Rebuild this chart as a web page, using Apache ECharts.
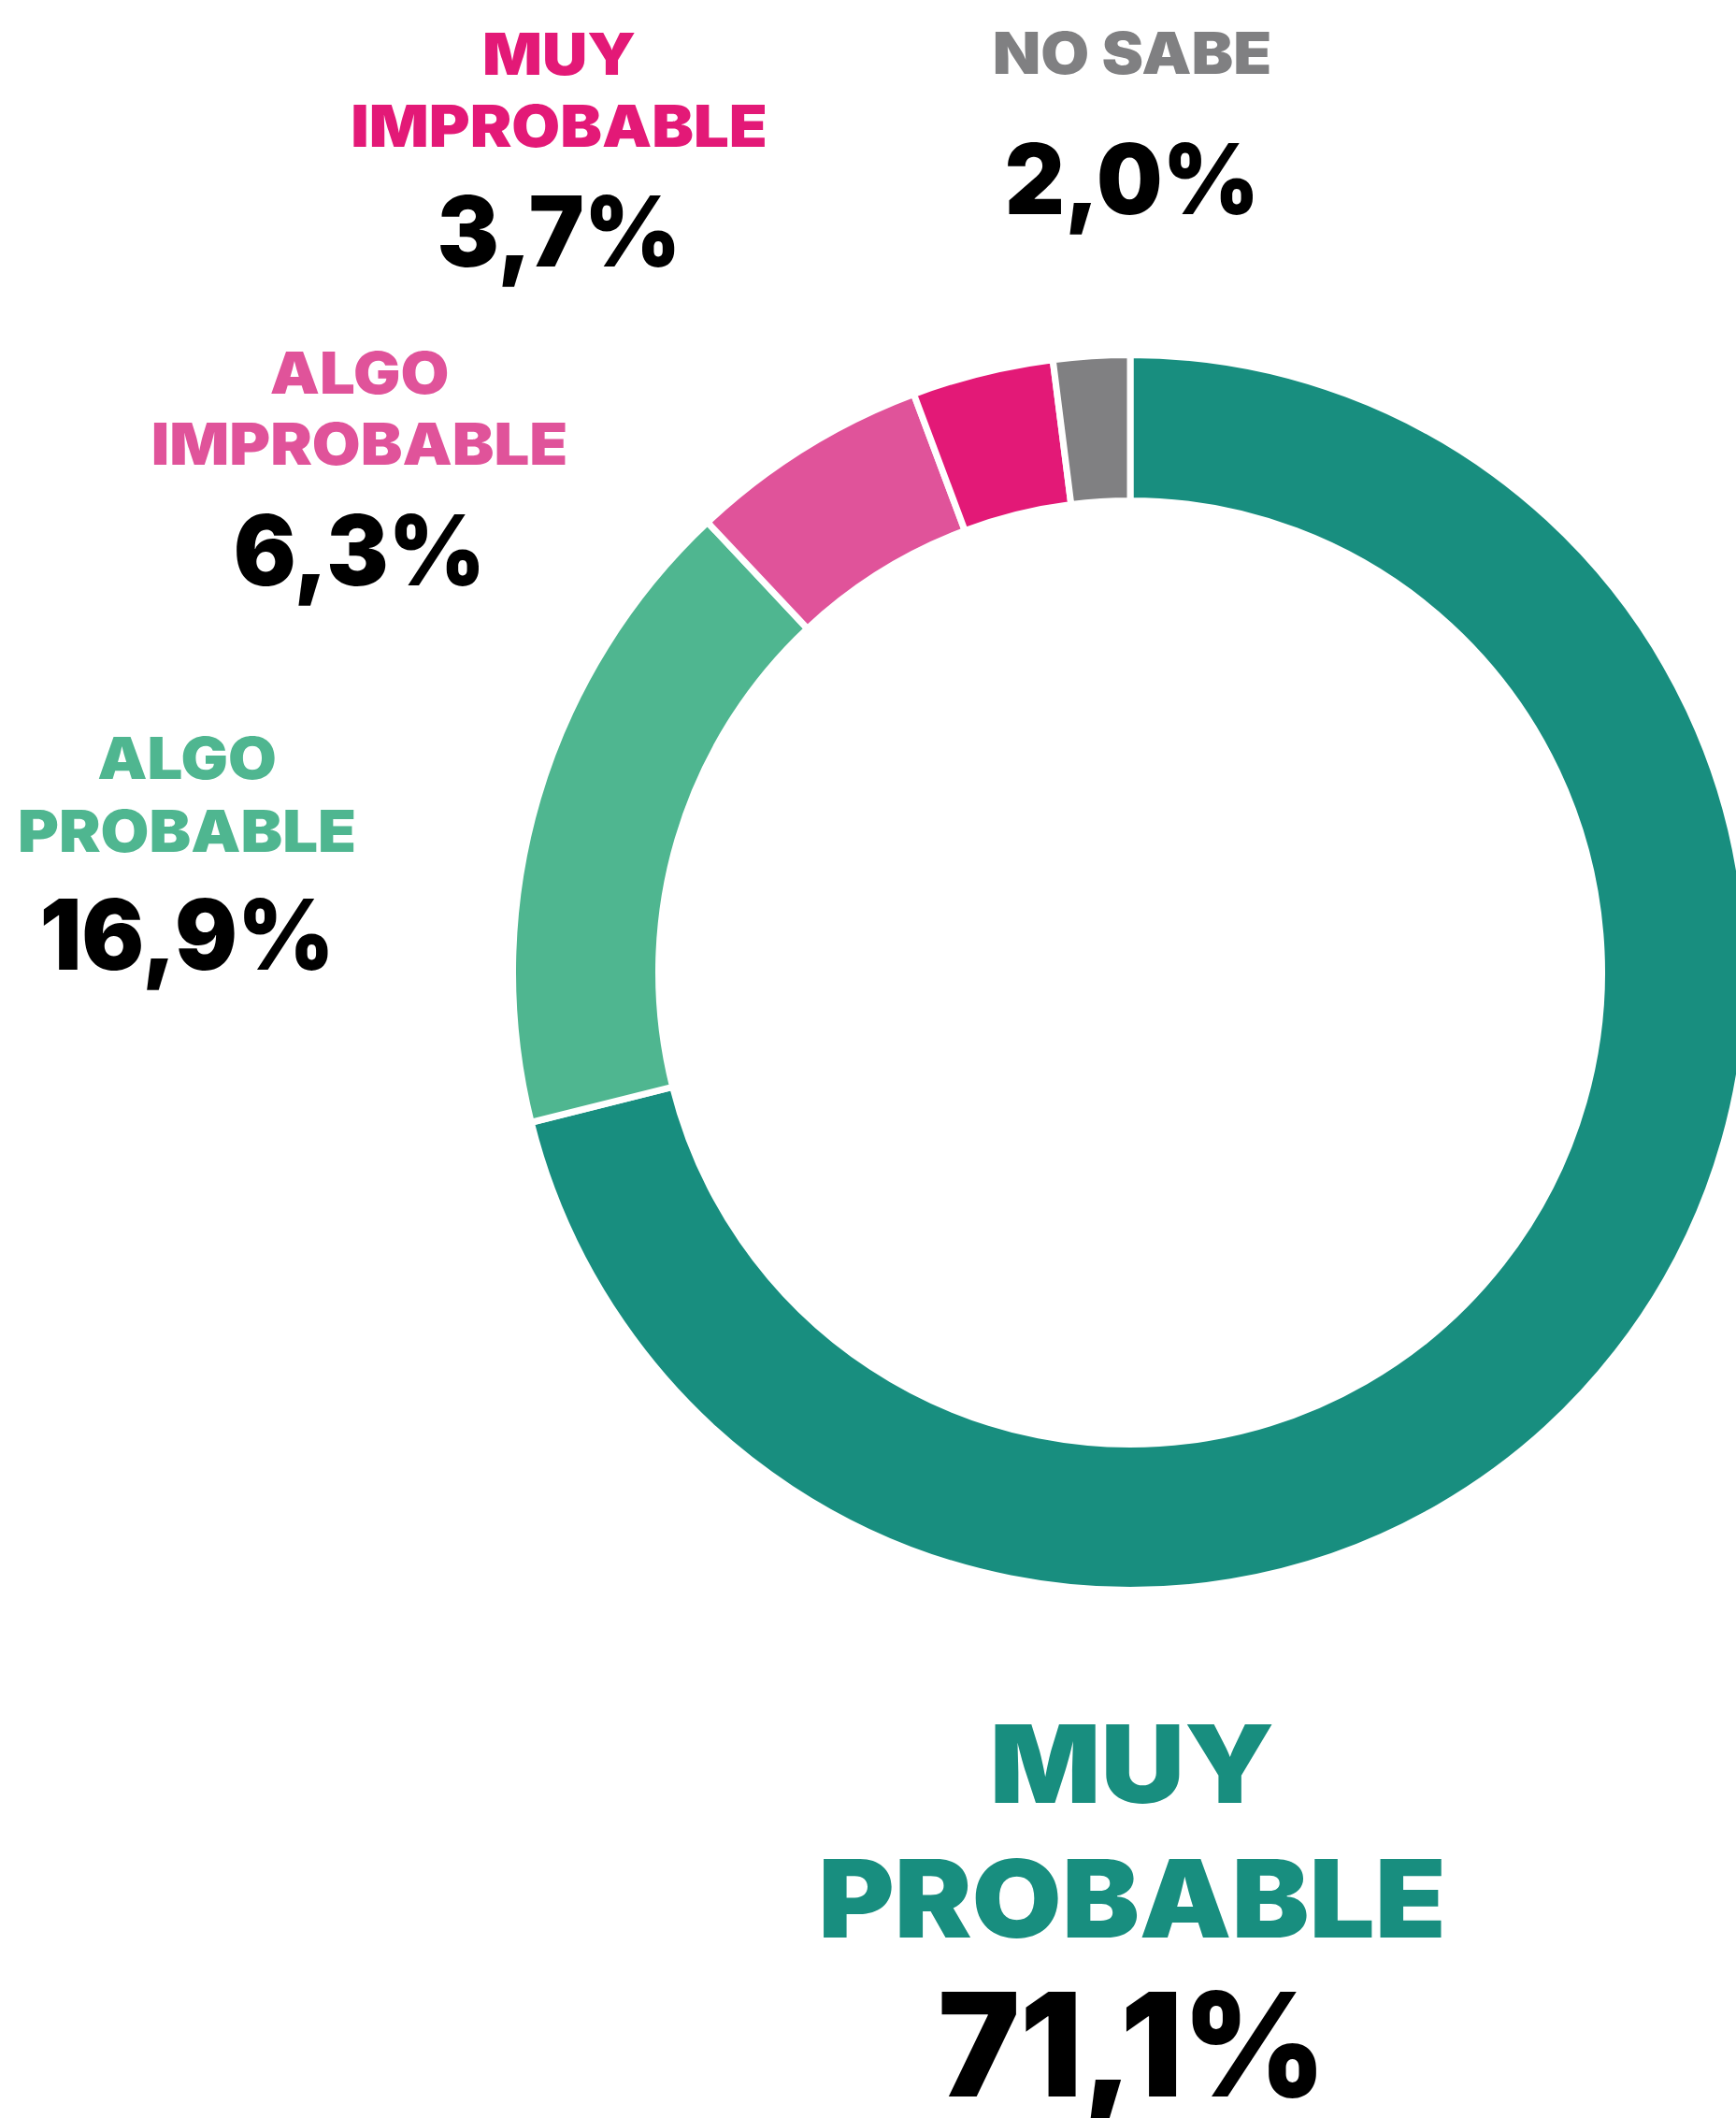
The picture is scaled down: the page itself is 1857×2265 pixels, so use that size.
<!DOCTYPE html>
<html>
<head>
<meta charset="utf-8">
<script src="https://cdn.jsdelivr.net/npm/echarts@6/dist/echarts.min.js"></script>
<style>
html,body{margin:0;padding:0;background:#fff;}
#chart{width:1857px;height:2265px;}
</style>
</head>
<body>
<div id="chart"></div>
<script>
// ---- data ----
const categories = ['MUY PROBABLE', 'ALGO PROBABLE', 'ALGO IMPROBABLE', 'MUY IMPROBABLE', 'NO SABE'];
const values = [71.1, 16.9, 6.3, 3.7, 2.0];
const labelLines = ['MUY\nPROBABLE', 'ALGO\nPROBABLE', 'ALGO\nIMPROBABLE', 'MUY\nIMPROBABLE', 'NO SABE'];

// ---- styles / layout ----
const colors = ['#188E7F', '#4FB690', '#E0539A', '#E31977', '#808082'];
const labelPos = [
  {x: 1211, y: [1886, 2030], vy: 2186, big: true},
  {x: 200, y: [810.5, 888.5], vy: 999},
  {x: 384.5, y: [398, 474.5], vy: 588.5},
  {x: 598, y: [57, 134.5], vy: 247.5},
  {x: 1211, y: [56.5], vy: 191.5}
];
const FONT = 'Inter';
const small = {name: 62, value: 104, nameScale: 1.08, valueScale: 0.955};
const big = {name: 115, value: 154, nameScale: 1.08, valueScale: 0.955};

function fmt(v) { return v.toFixed(1).replace('.', ',') + '%'; }

const graphics = [];
labelPos.forEach((p, i) => {
  const st = p.big ? big : small;
  const lines = labelLines[i].split('\n');
  lines.forEach((ln, k) => {
    graphics.push({
      type: 'text', x: p.x, y: p.y[k], scaleX: st.nameScale, silent: true,
      style: {text: ln, fill: colors[i], font: '900 ' + st.name + 'px ' + FONT,
              align: 'center', verticalAlign: 'middle'}
    });
  });
  graphics.push({
    type: 'text', x: p.x, y: p.vy, scaleX: st.valueScale, silent: true,
    style: {text: fmt(values[i]), fill: '#000', font: '900 ' + st.value + 'px ' + FONT,
            align: 'center', verticalAlign: 'middle'}
  });
});

const chart = echarts.init(document.getElementById('chart'), null, {renderer: 'svg'});
chart.setOption({
  animation: false,
  backgroundColor: '#fff',
  color: colors,
  graphic: graphics,
  series: [{
    type: 'pie',
    center: [1209, 1040],
    radius: [504.5, 660.5],
    startAngle: 90,
    clockwise: true,
    avoidLabelOverlap: false,
    label: {show: false},
    labelLine: {show: false},
    emphasis: {disabled: true},
    itemStyle: {borderColor: '#fff', borderWidth: 7},
    data: categories.map((c, i) => ({name: c, value: values[i]}))
  }]
});
</script>
</body>
</html>
